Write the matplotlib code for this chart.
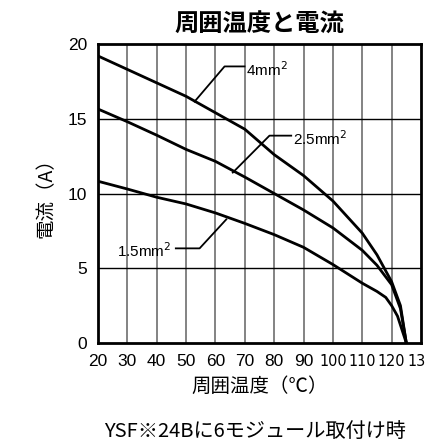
import matplotlib
matplotlib.use('Agg')
import matplotlib.pyplot as plt
from matplotlib import font_manager

plt.rcParams['font.family'] = ['Liberation Sans', 'Noto Sans CJK JP', 'DejaVu Sans']
JP = ['Noto Sans CJK JP', 'DejaVu Sans']

# data
temp = [20, 30, 40, 50, 60, 70, 80, 90, 100, 110, 115, 120, 123, 125]
i_4mm = [19.2, 18.3, 17.4, 16.5, 15.4, 14.3, 12.6, 11.2, 9.5, 7.35, 5.9, 4.1, 2.5, 0]
i_25mm = [15.65, 14.8, 13.9, 12.95, 12.15, 11.1, 10.0, 8.9, 7.7, 6.2, 5.2, 3.9, 2.3, 0]
temp_15 = [20, 30, 40, 50, 60, 70, 80, 90, 100, 110, 115, 118, 120, 122, 125]
i_15mm = [10.82, 10.3, 9.75, 9.3, 8.7, 8.0, 7.25, 6.4, 5.25, 4.0, 3.45, 3.05, 2.5, 1.8, 0]

x_ticks = [20, 30, 40, 50, 60, 70, 80, 90, 100, 110, 120, 130]
y_ticks = [0, 5, 10, 15, 20]

# narrow face for the three-digit ticks, if one is there
fonts = font_manager.fontManager.ttflist
narrow = None
for f in fonts:
    if f.name == 'Liberation Sans Narrow':
        narrow = ('Liberation Sans Narrow', 'normal', 12.5)
        break
if narrow is None:
    for f in fonts:
        if f.name == 'DejaVu Sans' and f.stretch == 'condensed':
            narrow = ('DejaVu Sans', 'condensed', 11.5)
            break
if narrow is None:
    narrow = ('Liberation Sans', 'normal', 10)

fig = plt.figure(figsize=(4.27, 4.45), dpi=100)
ax = fig.add_axes([98 / 427, 1 - 343 / 445, 323 / 427, 299 / 445])

for x in x_ticks[1:-1]:
    ax.axvline(x, color='#7a7a7a', lw=1.3, zorder=1)
for y in y_ticks[1:-1]:
    ax.axhline(y, color='black', lw=1.0, zorder=1)

ax.plot(temp, i_4mm, color='black', lw=2.0, zorder=3)
ax.plot(temp, i_25mm, color='black', lw=2.0, zorder=3)
ax.plot(temp_15, i_15mm, color='black', lw=2.0, zorder=3)

# leader lines and labels
ax.plot([52.9, 63.1, 69.9], [16.15, 18.5, 18.5], color='black', lw=1.3, zorder=3)
ax.text(70.3, 18.3, '4mm$^2$', fontsize=11, va='center', ha='left')
ax.plot([65.9, 78.4, 85.8], [11.4, 13.87, 13.87], color='black', lw=1.3, zorder=3)
ax.text(86.4, 13.7, '2.5mm$^2$', fontsize=11, va='center', ha='left')
ax.plot([63.7, 54.6, 46.5], [8.27, 6.33, 6.33], color='black', lw=1.3, zorder=3)
ax.text(45.0, 6.2, '1.5mm$^2$', fontsize=11, va='center', ha='right')

ax.set_xlim(20, 130)
ax.set_ylim(0, 20)
ax.set_xticks(x_ticks)
ax.set_yticks(y_ticks)
ax.tick_params(length=0, labelsize=12.5, pad=8)
for lab in ax.get_xticklabels():
    if lab.get_text() in ('100', '110', '120', '130'):
        lab.set_family(narrow[0])
        lab.set_fontstretch(narrow[1])
        lab.set_fontsize(narrow[2])
for s in ax.spines.values():
    s.set_linewidth(2.0)

ax.set_title('周囲温度と電流', family=JP, fontsize=17.5, fontweight='bold', pad=9)
ax.set_xlabel('周囲温度（℃）', family=JP, fontsize=14, labelpad=5)
ax.set_ylabel('電流（A）', family=JP, fontsize=14, labelpad=8)
fig.text(0.597, 0.03, 'YSF※24Bに6モジュール取付け時', family=JP, fontsize=14.5,
         ha='center', va='center')

fig.savefig('out.png', dpi=100)
